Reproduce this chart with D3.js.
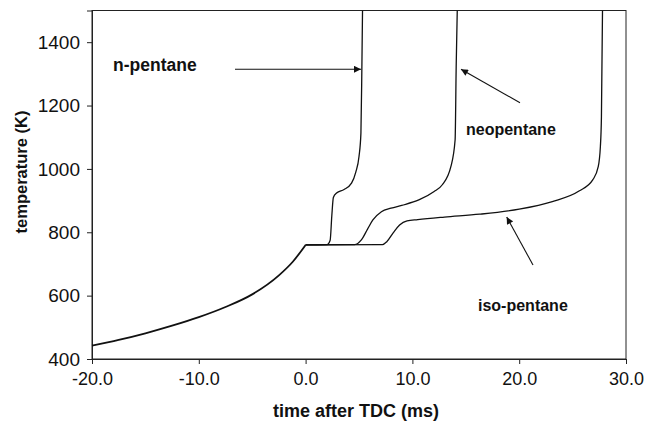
<!DOCTYPE html>
<html>
<head>
<meta charset="utf-8">
<script src="https://cdn.jsdelivr.net/npm/d3@7"></script>
<style>
  body { margin: 0; background: #fff; }
  svg { display: block; font-family: "Liberation Sans", Arial, sans-serif; }
</style>
</head>
<body>
<svg id="chart" width="645" height="424"></svg>
<script>
// ---- data (time after TDC in ms, temperature in K) ----
const compressionT = [-20, -17.5, -15, -12.5, -10, -7.5, -5, -2.5, -1.2, 0];
const compressionK = [442, 460, 481, 505, 532, 564, 604, 664, 707, 760];

const nPentaneT = [0, 2.0, 2.3, 2.45, 2.6, 2.9, 3.6, 4.3, 4.7, 5.0, 5.18, 5.27, 5.33];
const nPentaneK = [760, 761, 775, 850, 910, 924, 935, 955, 990, 1039, 1113, 1323, 1500];

const neopentaneT = [0, 4.6, 5.2, 5.8, 6.3, 7.1, 8.0, 9.0, 10.6, 12.0, 12.8, 13.6, 14.0, 14.1, 14.2];
const neopentaneK = [760, 761, 775, 810, 839, 865, 876, 885, 902, 928, 950, 1007, 1092, 1323, 1500];

const isoPentaneT = [0, 7.2, 7.6, 8.2, 8.8, 9.5, 10.5, 13, 16.3, 20, 23.1, 25.6, 26.9, 27.4, 27.6, 27.7, 27.8];
const isoPentaneK = [760, 761, 770, 798, 823, 836, 840, 848, 857, 873, 897, 930, 966, 1007, 1070, 1165, 1500];

const xTicks = [-20, -10, 0, 10, 20, 30];
const yTicks = [400, 600, 800, 1000, 1200, 1400];

const labels = ["n-pentane", "neopentane", "iso-pentane"];

// ---- layout ----
const svg = d3.select("#chart");
const mLeft = 92, mRight = 626, mTop = 10.5, mBottom = 359;
const x = d3.scaleLinear().domain([-20, 30]).range([mLeft, mRight]);
const y = d3.scaleLinear().domain([400, 1500]).range([mBottom, mTop]);

// frame
svg.append("rect")
  .attr("x", mLeft).attr("y", mTop)
  .attr("width", mRight - mLeft).attr("height", mBottom - mTop)
  .attr("fill", "none").attr("stroke", "#222").attr("stroke-width", 1);

// axes
const fmtX = d => d3.format(".1f")(d).replace("\u2212", "-");
const xAxis = d3.axisBottom(x).tickValues(xTicks).tickFormat(fmtX).tickSizeOuter(0).tickSize(5).tickPadding(8);
const gx = svg.append("g").attr("transform", `translate(0,${mBottom})`).call(xAxis);
const yAxis = d3.axisLeft(y).tickValues(yTicks).tickFormat(d3.format("d")).tickSizeOuter(0).tickSize(5).tickPadding(7);
const gy = svg.append("g").attr("transform", `translate(${mLeft},0)`).call(yAxis);
[gx, gy].forEach(g => {
  g.select(".domain").attr("stroke", "#222");
  g.selectAll(".tick line").attr("stroke", "#222");
  g.selectAll(".tick text").attr("fill", "#111")
    .style("font-family", '"Liberation Sans", Arial, sans-serif');
});
gx.selectAll(".tick text").style("font-size", "18px");
gy.selectAll(".tick text").style("font-size", "19px");

// axis titles
svg.append("text")
  .attr("x", 356).attr("y", 417)
  .attr("text-anchor", "middle")
  .style("font-size", "18px").style("font-weight", "bold").attr("fill", "#111")
  .text("time after TDC (ms)");
svg.append("text")
  .attr("transform", "translate(27,172) rotate(-90)")
  .attr("text-anchor", "middle")
  .style("font-size", "16.5px").style("font-weight", "bold").attr("fill", "#111")
  .text("temperature (K)");

// curves
const line = d3.line().x(d => x(d[0])).y(d => y(d[1])).curve(d3.curveMonotoneX);
const zip = (a, b) => a.map((v, i) => [v, b[i]]);
const plotG = svg.append("g");
plotG.append("path").datum(zip(compressionT, compressionK))
  .attr("d", line).attr("fill", "none").attr("stroke", "#111").attr("stroke-width", 1.8);
[[nPentaneT, nPentaneK], [neopentaneT, neopentaneK], [isoPentaneT, isoPentaneK]].forEach(([t, k]) => {
  plotG.append("path").datum(zip(t, k))
    .attr("d", line).attr("fill", "none").attr("stroke", "#111").attr("stroke-width", 1.3);
});

// annotations
const defs = svg.append("defs");
defs.append("marker").attr("id", "ah")
  .attr("viewBox", "0 0 10 10").attr("refX", 10).attr("refY", 5)
  .attr("markerWidth", 9).attr("markerHeight", 7).attr("markerUnits", "userSpaceOnUse")
  .attr("orient", "auto")
  .append("path").attr("d", "M0,0 L10,5 L0,10 z").attr("fill", "#111");

const arrows = [
  [235, 69.3, 361, 69.3],
  [520, 102.7, 461, 69.3],
  [533, 265, 506.7, 217]
];
arrows.forEach(a => {
  svg.append("line")
    .attr("x1", a[0]).attr("y1", a[1]).attr("x2", a[2]).attr("y2", a[3])
    .attr("stroke", "#111").attr("stroke-width", 1.1).attr("marker-end", "url(#ah)");
});

const labelPos = [[113, 71], [466, 135], [478, 311]];
const labelSize = [17.5, 16, 16];
labels.forEach((s, i) => {
  svg.append("text").attr("x", labelPos[i][0]).attr("y", labelPos[i][1])
    .style("font-size", labelSize[i] + "px").style("font-weight", "bold").attr("fill", "#111")
    .text(s);
});
</script>
</body>
</html>
